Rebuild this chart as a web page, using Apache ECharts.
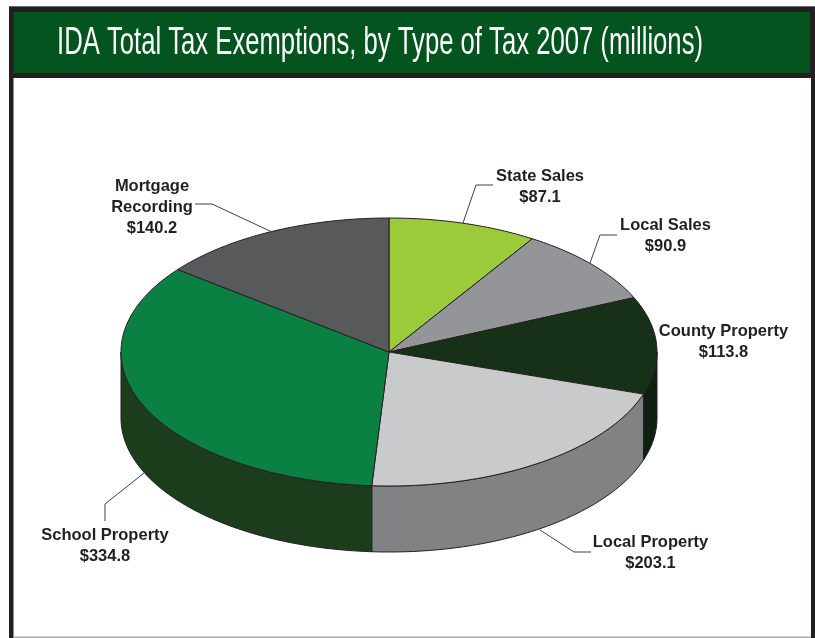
<!DOCTYPE html>
<html>
<head>
<meta charset="utf-8">
<style>html,body{margin:0;padding:0;background:#fff}#c{width:815px;height:638px}</style>
<script src="https://cdn.jsdelivr.net/npm/echarts@6/dist/echarts.min.js"></script>
</head>
<body>
<div id="c"></div>
<script>
// Data
var titleText = 'IDA Total Tax Exemptions, by Type of Tax 2007 (millions)';
var categories = ['State Sales', 'Local Sales', 'County Property', 'Local Property', 'School Property', 'Mortgage\nRecording'];
var values = [87.1, 90.9, 113.8, 203.1, 334.8, 140.2];

// Styling and layout
var topColors = ['#9bcb3b', '#939598', '#173118', '#c9cacc', '#0a8043', '#58595b'];
var sideColors = ['#7aa02e', '#6d6e70', '#0e2012', '#808284', '#1c3d1b', '#414042'];
var edge = '#231f20';
var pie = { cx: 389, cy: 352, rx: 268, ry: 134, depth: 66 };
var labelPos = [[540, 166], [665.5, 215], [723.5, 321], [650.5, 532], [105, 525], [152, 176]];
var leaders = [
  [[493, 185], [476, 185], [463, 223]],
  [[617, 235], [600, 235], [590, 263]],
  null,
  [[591, 552], [574, 552], [540, 530]],
  [[105, 521], [105, 504], [144, 473]],
  [[195, 204], [212, 204], [272, 232]]
];

var total = values.reduce(function (a, b) { return a + b; }, 0);
function px(deg) { return pie.cx + pie.rx * Math.sin(deg * Math.PI / 180); }
function py(deg, drop) { return pie.cy - pie.ry * Math.cos(deg * Math.PI / 180) + (drop || 0); }
function arc(from, to, drop) {
  var pts = [], n = Math.max(2, Math.ceil(Math.abs(to - from)));
  for (var i = 0; i <= n; i++) {
    var d = from + (to - from) * i / n;
    pts.push([px(d), py(d, drop)]);
  }
  return pts;
}

var titleFont = '38px "Liberation Sans"';
var measure = document.createElement('canvas').getContext('2d');
measure.font = titleFont;
var titleScale = 646 / measure.measureText(titleText).width;

var chart = echarts.init(document.getElementById('c'), null, { renderer: 'canvas' });

chart.setOption({
  animation: false,
  backgroundColor: '#fff',
  graphic: {
    elements: [
      { type: 'rect', z: 0, shape: { x: 9, y: 6, width: 806, height: 632 }, style: { fill: edge } },
      { type: 'rect', z: 0, shape: { x: 9, y: 6, width: 806, height: 1 }, style: { fill: '#6d6e70' } },
      { type: 'rect', z: 0, shape: { x: 13.5, y: 12, width: 796.5, height: 61 }, style: { fill: '#03541f' } },
      { type: 'rect', z: 0, shape: { x: 13.5, y: 78, width: 797.5, height: 560 }, style: { fill: '#fff' } },
      { type: 'rect', z: 0, shape: { x: 13.5, y: 636.5, width: 797.5, height: 1.5 }, style: { fill: '#a7a9ac' } },
      { type: 'text', z: 1, x: 57, y: 44, scaleX: titleScale, style: {
          text: titleText, fill: '#fff', font: titleFont,
          textAlign: 'left', textVerticalAlign: 'middle' } }
    ]
  },
  series: [{
    type: 'custom',
    coordinateSystem: 'none',
    silent: true,
    z: 2,
    data: values,
    renderItem: function (params, api) {
      var i = params.dataIndex;
      var before = values.slice(0, i).reduce(function (a, b) { return a + b; }, 0);
      var a0 = before / total * 360, a1 = (before + api.value(0)) / total * 360;
      var children = [];
      var s0 = Math.max(a0, 90), s1 = Math.min(a1, 270);
      if (s1 > s0) {
        children.push({
          type: 'polygon',
          shape: { points: arc(s0, s1, 0).concat(arc(s1, s0, pie.depth)) },
          style: { fill: sideColors[i], stroke: edge, lineWidth: 1 }
        });
      }
      children.push({
        type: 'polygon',
        shape: { points: [[pie.cx, pie.cy]].concat(arc(a0, a1, 0)) },
        style: { fill: topColors[i], stroke: edge, lineWidth: 1, lineJoin: 'round' }
      });
      if (leaders[i]) {
        children.push({
          type: 'polyline',
          shape: { points: leaders[i] },
          style: { fill: null, stroke: '#414042', lineWidth: 1 }
        });
      }
      children.push({
        type: 'text',
        x: labelPos[i][0], y: labelPos[i][1],
        style: {
          text: categories[i] + '\n$' + api.value(0).toFixed(1),
          fill: '#231f20',
          font: 'bold 16.5px "Liberation Sans"',
          lineHeight: 21,
          align: 'center',
          textAlign: 'center',
          textVerticalAlign: 'top'
        }
      });
      return { type: 'group', children: children };
    }
  }]
});
</script>
</body>
</html>
